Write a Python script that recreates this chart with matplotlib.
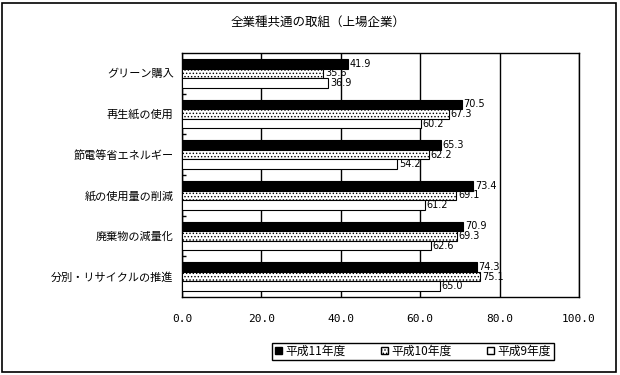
import matplotlib
matplotlib.use('Agg')
import matplotlib.pyplot as plt
from matplotlib.patches import Patch, Rectangle
import numpy as np

plt.rcParams['font.family'] = ['Noto Sans CJK JP', 'DejaVu Sans']
plt.rcParams['hatch.linewidth'] = 0.6

categories = ['グリーン購入', '再生紙の使用', '節電等省エネルギー',
              '紙の使用量の削減', '廃棄物の減量化', '分別・リサイクルの推進']
h11 = [41.9, 70.5, 65.3, 73.4, 70.9, 74.3]
h10 = [35.6, 67.3, 62.2, 69.1, 69.3, 75.1]
h9 = [36.9, 60.2, 54.2, 61.2, 62.6, 65.0]
series_names = ['平成11年度', '平成10年度', '平成9年度']
xticks = [0, 20, 40, 60, 80, 100]

fig = plt.figure(figsize=(6.2, 3.75), dpi=100)
fig.patches.append(Rectangle((0.004, 0.008), 0.99, 0.985, transform=fig.transFigure,
                             fill=False, edgecolor='black', linewidth=1.2))
ax = fig.add_axes([182 / 620, 1 - 297 / 375, 397 / 620, 244 / 375])

y = np.arange(len(categories))
bh = 0.235
styles = [dict(color='black', edgecolor='black'),
          dict(color='white', edgecolor='black', hatch='.....'),
          dict(color='white', edgecolor='black')]
for k, vals in enumerate([h11, h10, h9]):
    pos = y + (k - 1) * bh
    ax.barh(pos, vals, height=bh, linewidth=0.8, zorder=3, **styles[k])
    for p, v in zip(pos, vals):
        ax.text(v + 0.4, p, f'{v:.1f}', va='center', ha='left', fontsize=7,
                family='DejaVu Sans', zorder=4)

ax.set_xlim(0, 100)
ax.set_ylim(len(categories) - 0.5, -0.5)
ax.set_xticks(xticks)
ax.set_xticklabels([f'{t:.1f}' for t in xticks], family='DejaVu Sans Mono', fontsize=8)
ax.tick_params(axis='x', length=0, pad=12)
ax.set_yticks(y)
ax.set_yticklabels(categories, fontsize=8)
ax.tick_params(axis='y', length=0, pad=6)
ax.set_yticks(np.arange(0.5, len(categories) - 0.5, 1), minor=True)
ax.tick_params(axis='y', which='minor', direction='in', length=3, width=1)
ax.xaxis.grid(True, color='black', linewidth=1, zorder=0)
for s in ax.spines.values():
    s.set_linewidth(1)

fig.text(0.513, 0.941, '全業種共通の取組（上場企業）', ha='center', va='center', fontsize=9)

handles = [Patch(facecolor='black', edgecolor='black'),
           Patch(facecolor='white', edgecolor='black', hatch='.....'),
           Patch(facecolor='white', edgecolor='black')]
leg = fig.legend(handles, series_names, loc='center', bbox_to_anchor=(0.666, 0.063),
                 ncol=3, fontsize=8.5, frameon=True, fancybox=False, edgecolor='black',
                 framealpha=1, handlelength=0.6, handleheight=0.6, handletextpad=0.3,
                 columnspacing=3.0, borderpad=0.2, borderaxespad=0)
leg.get_frame().set_linewidth(1)

fig.savefig('out.png', dpi=100)
